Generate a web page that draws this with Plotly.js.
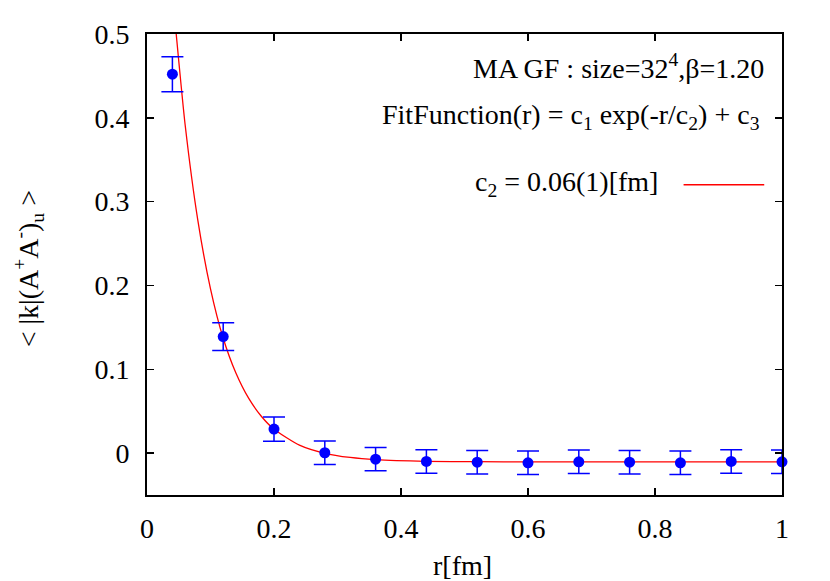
<!DOCTYPE html>
<html>
<head>
<meta charset="utf-8">
<script src="https://cdn.plot.ly/plotly-3.0.1.min.js"></script>
<style>
  html, body { margin: 0; padding: 0; background: #fff; }
  #chart { width: 830px; height: 581px; }
</style>
</head>
<body>
<div id="chart"></div>
<script>
// measured points
const rData = [0.04, 0.12, 0.20, 0.28, 0.36, 0.44, 0.52, 0.60, 0.68, 0.76, 0.84, 0.92, 1.00];
const kData = [0.452, 0.139, 0.0287, 0.0004, -0.0072, -0.0100, -0.0108, -0.0116, -0.0104, -0.0108, -0.0116, -0.0100, -0.0104];
const kErr = [0.021, 0.0165, 0.0145, 0.014, 0.0138, 0.014, 0.014, 0.014, 0.014, 0.014, 0.014, 0.014, 0.014];

// fit curve
const rFit = [0.04, 0.046, 0.06, 0.08, 0.10, 0.12, 0.14, 0.16, 0.18, 0.20, 0.24, 0.28, 0.32, 0.36, 0.44, 0.52, 0.60, 0.80, 1.00];
const kFit = [0.55, 0.50, 0.392, 0.278, 0.196, 0.137, 0.0955, 0.0655, 0.044, 0.0285, 0.0095, -0.0002, -0.0052, -0.0078, -0.0098, -0.0103, -0.0105, -0.0105, -0.0105];

const xTicks = [0, 0.2, 0.4, 0.6, 0.8, 1];
const yTicks = [0, 0.1, 0.2, 0.3, 0.4, 0.5];

const FONT = {family: 'Liberation Serif', size: 28, color: '#000'};

const traces = [
  {
    x: rFit,
    y: kFit,
    type: 'scatter',
    mode: 'lines',
    line: {color: '#ff0000', width: 1.3, shape: 'spline', smoothing: 0.6},
    hoverinfo: 'none',
  },
  {
    x: rData,
    y: kData,
    type: 'scatter',
    mode: 'markers',
    marker: {color: '#0000ff', size: 11},
    error_y: {type: 'data', array: kErr, visible: true, color: '#0000ff', thickness: 1.5, width: 11},
    cliponaxis: false,
  },
];

const axisBase = {
  showgrid: false,
  zeroline: false,
  showline: true,
  linecolor: '#000',
  linewidth: 2,
  mirror: 'ticks',
  ticks: 'inside',
  ticklen: 7,
  tickwidth: 1.5,
  tickcolor: '#000',
  tickfont: FONT,
};

const layout = {
  width: 830,
  height: 581,
  showlegend: false,
  paper_bgcolor: '#fff',
  plot_bgcolor: '#fff',
  font: FONT,
  margin: {l: 147, r: 48, t: 34, b: 86},
  xaxis: Object.assign({}, axisBase, {
    range: [0, 1],
    tickvals: xTicks,
    ticktext: xTicks.map(String),
    ticklabelstandoff: 7,
  }),
  yaxis: Object.assign({}, axisBase, {
    range: [-0.05, 0.5],
    tickvals: yTicks,
    ticktext: yTicks.map(String),
    ticklabelstandoff: 10,
  }),
  shapes: [
    {type: 'line', xref: 'paper', yref: 'paper', x0: 0.845, x1: 0.972, y0: 0.673, y1: 0.673,
     line: {color: '#ff0000', width: 1.3}},
  ],
  annotations: [
    {text: 'MA GF : size=32<sup>4</sup>,β=1.20', xref: 'paper', yref: 'paper',
     x: 0.975, y: 0.93, xanchor: 'right', yanchor: 'middle', showarrow: false, font: FONT},
    {text: 'FitFunction(r) = c<sub>1</sub> exp(-r/c<sub>2</sub>) + c<sub>3</sub>', xref: 'paper', yref: 'paper',
     x: 0.968, y: 0.82, xanchor: 'right', yanchor: 'middle', showarrow: false, font: FONT},
    {text: 'c<sub>2</sub> = 0.06(1)[fm]', xref: 'paper', yref: 'paper',
     x: 0.808, y: 0.675, xanchor: 'right', yanchor: 'middle', showarrow: false, font: FONT},
    {text: 'r[fm]', xref: 'paper', yref: 'paper',
     x: 0.497, y: -0.154, xanchor: 'center', yanchor: 'middle', showarrow: false, font: FONT},
    {text: '< |k|(A<sup>+</sup>A<sup>-</sup>)<sub>u</sub> >', xref: 'paper', yref: 'paper',
     x: -0.187, y: 0.49, xanchor: 'center', yanchor: 'middle', textangle: -90, showarrow: false, font: FONT},
  ],
};

Plotly.newPlot('chart', traces, layout, {displayModeBar: false, staticPlot: true});
</script>
</body>
</html>
